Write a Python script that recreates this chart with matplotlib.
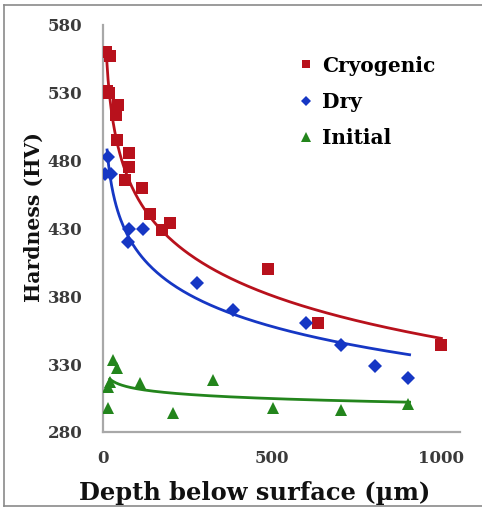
import numpy as np
import matplotlib.pyplot as plt
from matplotlib.lines import Line2D

# hardness profiles below the machined surface
cryo_depth = [10, 20, 12, 18, 44, 38, 41, 77, 77, 65, 115, 139, 198, 174, 487, 634, 1000]
cryo_hv = [560, 557, 531, 530, 521, 514, 495, 486, 475, 466, 460, 441, 434, 429, 400, 360, 344]

dry_depth = [15, 5, 25, 77, 118, 74, 277, 383, 601, 702, 805, 900]
dry_hv = [483, 470, 470, 430, 430, 420, 390, 370, 360, 344, 329, 320]

init_depth = [29, 41, 21, 15, 109, 15, 206, 324, 501, 702, 900]
init_hv = [333, 327, 317, 313, 316, 298, 294, 318, 298, 296, 301]

# logarithmic trendlines hv = a + b*ln(depth), and the depth span they cover
cryo_trend = (662.6, -45.4)
dry_trend = (574.6, -34.9)
init_trend = (332.6, -4.5)
cryo_span = (10, 1000)
dry_span = (12, 906)
init_span = (20, 906)

x_ticks = [0, 500, 1000]
y_ticks = [280, 330, 380, 430, 480, 530, 580]

RED = '#b8111c'
BLUE = '#1637c4'
GREEN = '#23851c'
FONT = 'DejaVu Serif'


def trend_line(coef, span):
    a, b = coef
    xs = np.linspace(span[0], span[1], 200)
    return xs, a + b * np.log(xs)


fig = plt.figure(figsize=(4.82, 5.08), dpi=100)
ax = fig.add_axes([103 / 482, 76 / 508, 357 / 482, 407 / 508])

series = [
    (cryo_depth, cryo_hv, cryo_trend, cryo_span, RED, 's', 8.5, 'Cryogenic'),
    (dry_depth, dry_hv, dry_trend, dry_span, BLUE, 'D', 7, 'Dry'),
    (init_depth, init_hv, init_trend, init_span, GREEN, '^', 9, 'Initial'),
]
handles = []
for depth, hv, coef, span, col, mk, ms, name in series:
    xs, ys = trend_line(coef, span)
    ax.plot(xs, ys, color=col, lw=2.0, zorder=2)
    ax.plot(depth, hv, ls='none', marker=mk, ms=ms, color=col,
            markeredgewidth=0, zorder=3)
    handles.append(Line2D([], [], ls='none', marker=mk, ms=ms * 0.75,
                          color=col, markeredgewidth=0, label=name))

ax.set_xlim(0, 1055)
ax.set_ylim(280, 580)
ax.set_xticks(x_ticks)
ax.set_yticks(y_ticks)
ax.tick_params(length=0, labelsize=12, labelcolor='#3a3a3a')
ax.tick_params(axis='y', pad=15)
ax.tick_params(axis='x', pad=13)
for lbl in ax.get_xticklabels() + ax.get_yticklabels():
    lbl.set_fontfamily(FONT)
    lbl.set_fontweight('bold')

for side in ['top', 'right']:
    ax.spines[side].set_visible(False)
for side in ['left', 'bottom']:
    ax.spines[side].set_color('#a8a8a8')
    ax.spines[side].set_linewidth(1.6)

ax.set_xlabel('Depth below surface (µm)', fontfamily=FONT, fontweight='bold',
              fontsize=17.4, color='#111111')
ax.xaxis.set_label_coords((255 - 103) / 357, -(493 - 432) / 407)
ax.xaxis.label.set_va('center')
ax.set_ylabel('Hardness (HV)', fontfamily=FONT, fontweight='bold',
              fontsize=14.7, color='#111111')
ax.yaxis.set_label_coords(-(103 - 34) / 357, (432 - 217) / 407)
ax.yaxis.label.set_va('center')

ax.legend(handles=handles, loc='upper left', bbox_to_anchor=(0.54, 0.925),
          frameon=False, borderpad=0, borderaxespad=0, handletextpad=0.3,
          labelspacing=0.8, handlelength=1.0,
          prop={'family': FONT, 'weight': 'bold', 'size': 14.5})

# thin grey frame around the figure
fig.add_artist(Line2D([4 / 482, 4 / 482], [2 / 508, 503 / 508],
                      transform=fig.transFigure, color='#8a8a8a', lw=1.2))
fig.add_artist(Line2D([4 / 482, 1], [503 / 508, 503 / 508],
                      transform=fig.transFigure, color='#8a8a8a', lw=1.2))
fig.add_artist(Line2D([4 / 482, 1], [2 / 508, 2 / 508],
                      transform=fig.transFigure, color='#8a8a8a', lw=1.2))

fig.savefig('out.png', dpi=100)
